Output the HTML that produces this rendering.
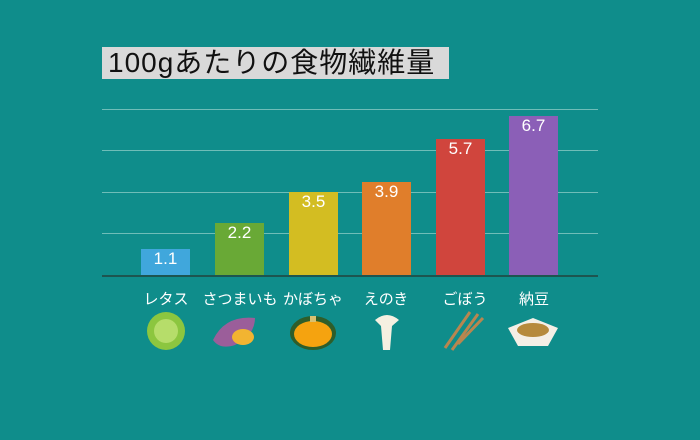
<!DOCTYPE html>
<html><head><meta charset="utf-8"><style>
body{margin:0;width:700px;height:440px;background:#0f8d8b;overflow:hidden;position:relative;font-family:"Liberation Sans","Noto Sans CJK JP",sans-serif}
.t{position:absolute;left:102px;top:47px;width:347px;height:32px;background:#d9d9d9;color:#111;font-size:28px;line-height:32px;padding-left:6px;box-sizing:border-box;letter-spacing:1px;white-space:nowrap;overflow:hidden}
.g{position:absolute;left:102px;width:496px;height:1px;background:#6fbdb8}
.b{position:absolute;width:49px;bottom:165px;color:#fff;text-align:center;font-size:17px;line-height:20px}
.l{position:absolute;top:288px;width:90px;text-align:center;color:#fff;font-size:15px}
</style></head><body>
<div class="t">100gあたりの食物繊維量</div>
<div class="g" style="top:109px"></div>
<div class="g" style="top:150px"></div>
<div class="g" style="top:192px"></div>
<div class="g" style="top:233px"></div>
<div class="b" style="left:141px;height:26px;background:#40a7dc">1.1</div>
<div class="b" style="left:215px;height:52px;background:#69a936">2.2</div>
<div class="b" style="left:289px;height:83px;background:#d3bd22">3.5</div>
<div class="b" style="left:362px;height:93px;background:#e07e2b">3.9</div>
<div class="b" style="left:436px;height:136px;background:#d0453d">5.7</div>
<div class="b" style="left:509px;height:159px;background:#8b5fb7">6.7</div>
<div class="g" style="top:275px;height:2px;background:#1d5550"></div>
<div class="l" style="left:121px">レタス</div>
<div class="l" style="left:195px">さつまいも</div>
<div class="l" style="left:268px">かぼちゃ</div>
<div class="l" style="left:341px">えのき</div>
<div class="l" style="left:420px">ごぼう</div>
<div class="l" style="left:489px">納豆</div>
<svg width="700" height="440" style="position:absolute;left:0;top:0">
<circle cx="166" cy="331" r="19" fill="#8cc63f"/><circle cx="166" cy="331" r="12" fill="#b6dd6a"/>
<path d="M213 340 Q225 315 255 318 Q255 335 235 345 Q220 350 213 340Z" fill="#9b5e9a"/><ellipse cx="243" cy="337" rx="11" ry="8" fill="#f2b431"/>
<ellipse cx="313" cy="333" rx="23" ry="17" fill="#2e5e2a"/><ellipse cx="313" cy="334" rx="19" ry="13" fill="#f5a30f"/><rect x="310" y="316" width="6" height="6" fill="#d8c070"/>
<path d="M375 320 Q387 310 399 320 L392 326 L390 350 L383 350 L381 326Z" fill="#f5f0e1"/>
<g stroke="#b8864f" stroke-width="3"><line x1="445" y1="348" x2="470" y2="312"/><line x1="452" y1="350" x2="478" y2="314"/><line x1="458" y1="344" x2="483" y2="318"/></g>
<path d="M508 328 L533 318 L558 328 L548 346 L518 346Z" fill="#f4efe6"/><ellipse cx="533" cy="330" rx="16" ry="7" fill="#b68a3c"/>
</svg>
</body></html>
